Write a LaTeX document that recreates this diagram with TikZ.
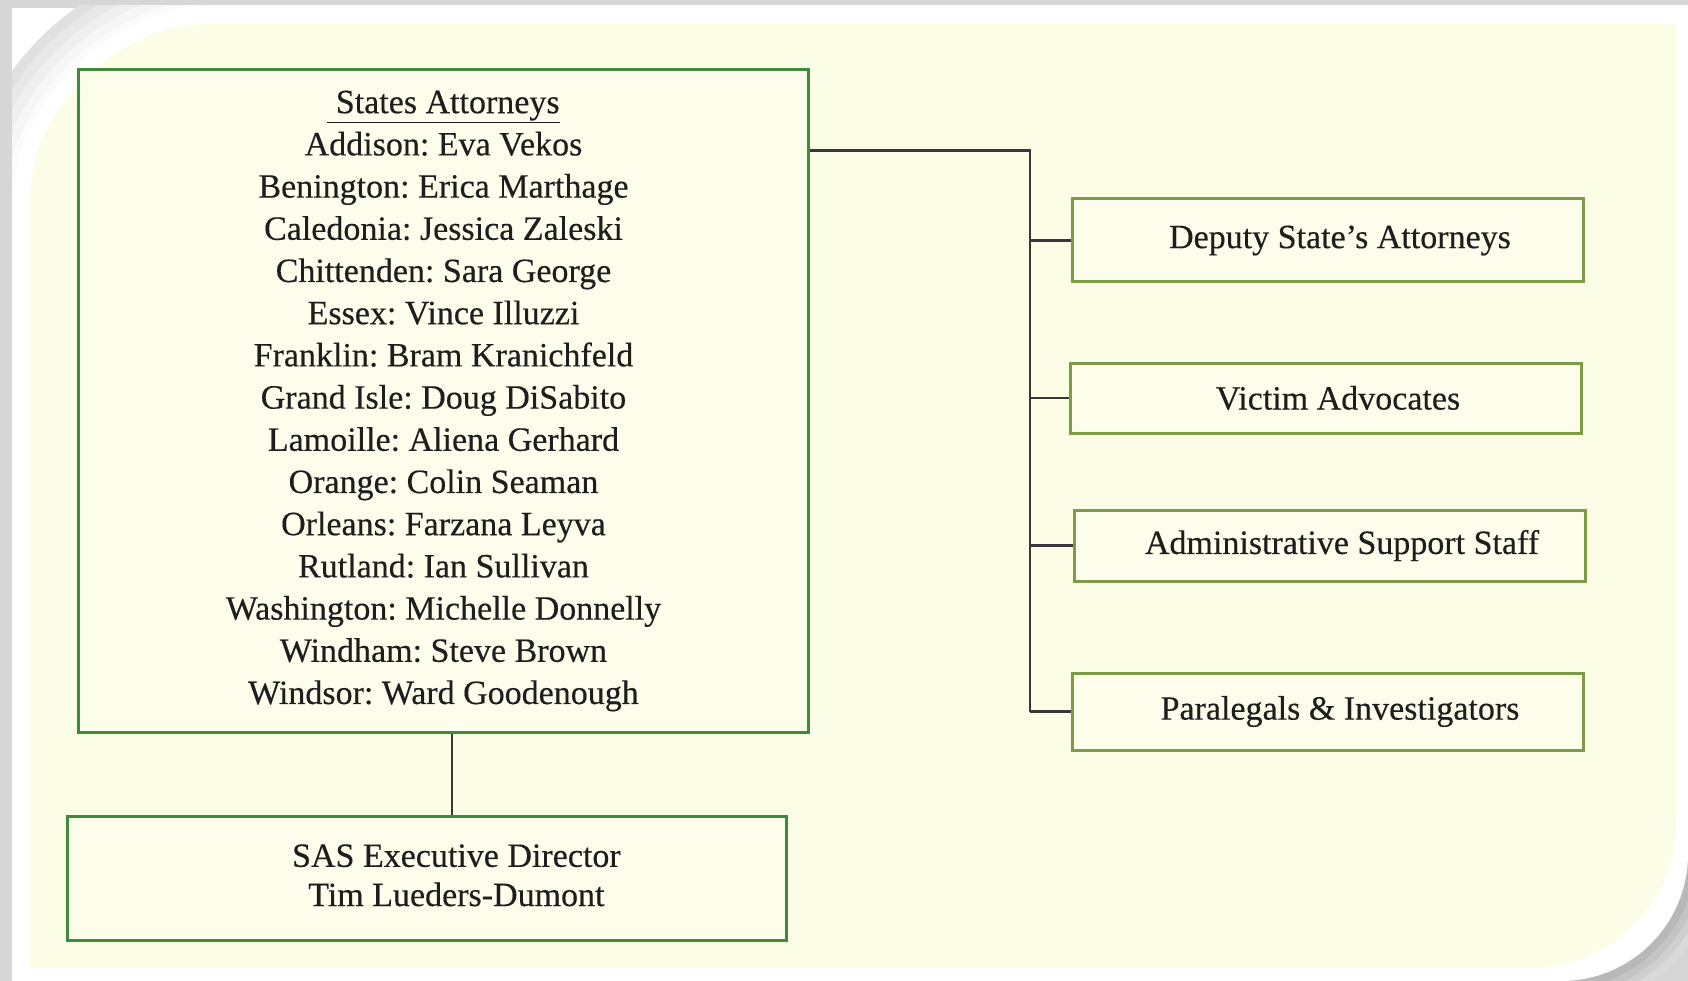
\documentclass[tikz,border=0pt]{standalone}
\usepackage{fontspec}
\setmainfont{Liberation Serif}[FakeBold=0.35]
\definecolor{shadowgray}{HTML}{D6D6D6}
\definecolor{cream}{HTML}{FCFDE7}
\definecolor{boxfill}{HTML}{FCFDEB}
\definecolor{darkgreen}{HTML}{3E8B3A}
\definecolor{olivegreen}{HTML}{7E9B45}
\definecolor{linegray}{HTML}{383838}
\definecolor{textdark}{HTML}{1E1E1E}
\begin{document}
\begin{tikzpicture}[x=1pt,y=-1pt,
  every node/.style={font=\fontsize{34}{42.2}\selectfont\frenchspacing, text=textdark},
  mainbox/.style={draw=darkgreen, line width=3pt, fill=boxfill, align=center, inner sep=0pt},
  sidebox/.style={draw=olivegreen, line width=3pt, fill=boxfill, align=center, inner sep=0pt, minimum width=511pt},
  link/.style={draw=linegray, line width=2.6pt}]
\useasboundingbox (0,0) rectangle (1688,981);
% page background and frame
\fill[shadowgray] (0,0) rectangle (1688,981);
\fill[white] (12,8) rectangle (300,300);
\begin{scope}
  \clip (12,5) rectangle (320,320);
  \foreach \w/\c in {90/E0E0E0,70/E8E8E8,50/EFEFEF,30/F6F6F6,12/FBFBFB}{
    \definecolor{tmpc}{HTML}{\c}
    \draw[tmpc, line width=\w pt] (12,205) .. controls (12,94.6) and (122.4,5) .. (212,5);
  }
  \fill[shadowgray] (0,0) rectangle (1688,5);
  \fill[shadowgray] (0,0) rectangle (12,981);
\end{scope}
\begin{scope}
  \clip (1450,780) rectangle (1688,981);
  \foreach \w/\c in {60/D9D9D9,44/CFCFCF,30/C4C4C4,16/B8B8B8}{
    \definecolor{tmpc}{HTML}{\c}
    \draw[tmpc, line width=\w pt] (1688,854) .. controls (1688,924) and (1631,981) .. (1561,981);
  }
\end{scope}
\fill[white] (12,205) .. controls (12,94.6) and (122.4,5) .. (212,5) -- (1688,5)
  -- (1688,854) .. controls (1688,924) and (1631,981) .. (1561,981) -- (12,981) -- cycle;
\fill[cream] (30,199) .. controls (30,102.4) and (126.6,24) .. (205,24) -- (1676,24)
  -- (1676,828) .. controls (1676,903) and (1608,968) .. (1533,968) -- (30,968) -- cycle;
% boxes
\node[mainbox, minimum width=730pt, minimum height=662pt] (main) at (443.5,401) {%
  \underline{\ States Attorneys}\\
  Addison: Eva Vekos\\
  Benington: Erica Marthage\\
  Caledonia: Jessica Zaleski\\
  Chittenden: Sara George\\
  Essex: Vince Illuzzi\\
  Franklin: Bram Kranichfeld\\
  Grand Isle: Doug DiSabito\\
  Lamoille: Aliena Gerhard\\
  Orange: Colin Seaman\\
  Orleans: Farzana Leyva\\
  Rutland: Ian Sullivan\\
  Washington: Michelle Donnelly\\
  Windham: Steve Brown\\
  Windsor: Ward Goodenough};
\node[sidebox, minimum height=83pt] (dep) at (1328,240.5) {\hspace*{24pt}\raisebox{3pt}{Deputy State’s Attorneys}};
\node[sidebox, minimum height=70pt] (vic) at (1326,398) {\hspace*{24pt}Victim Advocates};
\node[sidebox, minimum height=71pt] (adm) at (1330,545.6) {\hspace*{24pt}Administrative Support Staff};
\node[sidebox, minimum height=77pt] (para) at (1328,711.5) {\hspace*{24pt}\raisebox{2pt}{Paralegals \& Investigators}};
\node[mainbox, minimum width=719pt, minimum height=124pt] (sas) at (427.4,878) {%
  \hspace*{58pt}\raisebox{4pt}{\begin{tabular}{@{}c@{}}SAS Executive Director\\[-3pt] Tim Lueders-Dumont\end{tabular}}};
% connectors
\coordinate (j) at (1030,150.7);
\coordinate (k) at (452,0);
\draw[link] (main.east |- j) -- (j) -- (j |- para.west);
\draw[link] (j |- dep.west) -- (dep.west);
\draw[link] (j |- vic.west) -- (vic.west);
\draw[link] (j |- adm.west) -- (adm.west);
\draw[link] (j |- para.west) -- (para.west);
\draw[link] (main.south -| k) -- (sas.north -| k);
\end{tikzpicture}
\end{document}
